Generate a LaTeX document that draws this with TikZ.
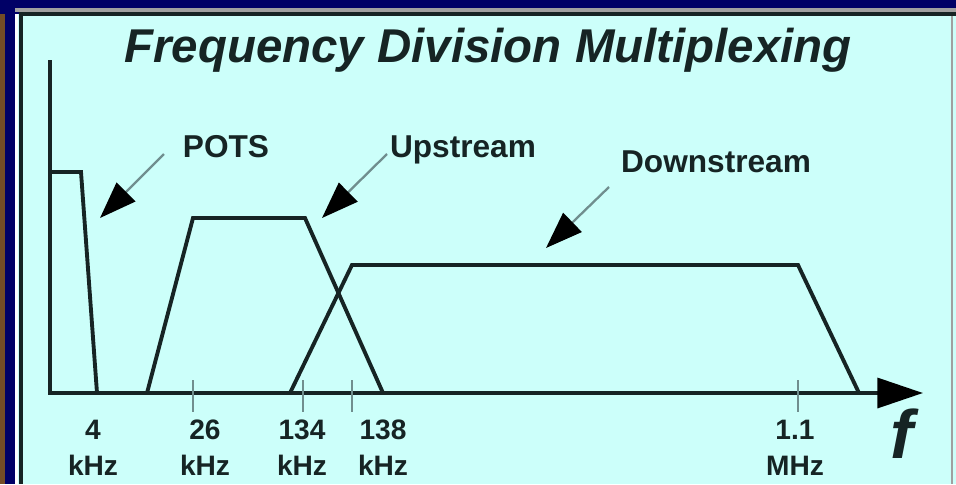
\documentclass[tikz,border=0pt]{standalone}
\usepackage{fontspec}
\setmainfont{Liberation Sans}
\usetikzlibrary{arrows.meta,positioning}

\definecolor{navyback}{RGB}{0,0,102}
\definecolor{panel}{RGB}{204,255,250}
\definecolor{edge}{RGB}{22,36,36}
\definecolor{shaft}{RGB}{112,142,142}
\definecolor{rim}{RGB}{160,160,160}

\tikzset{
  band/.style={edge, line width=2.2pt, line join=miter},
  axisline/.style={edge, line width=2.2pt, -{Triangle[length=26pt,width=17pt,color=black]}},
  tick/.style={shaft, line width=1.2pt},
  pointer/.style={shaft, line width=1.3pt, -{Triangle[length=21pt,width=15pt,color=black]}},
  bandlabel/.style={font=\fontsize{18}{20}\selectfont\bfseries, text=edge, inner sep=0pt, anchor=base},
  ticklabel/.style={font=\fontsize{16}{20.4}\selectfont\bfseries, text=edge, inner sep=0pt, anchor=north, align=center}
}

\begin{document}
\begin{tikzpicture}[x=0.02cm,y=-0.02cm]
\useasboundingbox (0,0) rectangle (956,484);

% frame
\fill[navyback] (0,0) rectangle (956,484);
\fill[brown!60!black] (0,14) rectangle (5,484);
\fill[panel] (17,14) rectangle (956,484);
\fill[white] (15,14) rectangle (18,484);
\draw[rim, line width=2.3pt] (15,10) -- (956,10);
\draw[edge, line width=2.3pt] (21,484) -- (21,14) -- (956,14);
\draw[rim, line width=1.2pt] (952,16) -- (952,484);

% title
\node[font=\fontsize{27}{30}\selectfont\bfseries\itshape, text=edge, anchor=base] (title) at (488,62) {Frequency Division Multiplexing};

% axes
\coordinate (origin) at (50,393);
\coordinate (ytop) at (50,60);
\coordinate (xend) at (923,393);
\draw[axisline] (ytop) -- (origin) -- (xend);
\node[font=\fontsize{39}{40}\selectfont\bfseries\itshape, text=edge, inner sep=0pt, anchor=base] (faxis) at (902,458) {f};

% frequency bands
\draw[band] (50,172) -- (81,172) -- (97,393);
\draw[band] (147,393) -- (193,218) -- (305,218) -- (383,393);
\draw[band] (290,393) -- (352,265) -- (798,265) -- (859,393);

% ticks
\foreach \x in {193,303,352,798} {
    \draw[tick] (\x,380) -- (\x,412);
}

% tick labels
\foreach \x/\val/\unit/\name in {93/4/kHz/fa, 205/26/kHz/fb, 302/134/kHz/fc, 383/138/kHz/fd, 795/1.1/MHz/fe} {
    \node[ticklabel] (\name) at (\x,420) {\val\\\unit};
}

% band labels
\node[bandlabel] (pots) at (226,157) {POTS};
\node[bandlabel] (up) at (463,157) {Upstream};
\node[bandlabel] (down) at (716,172) {Downstream};

% pointers
\coordinate (potsTail) at (164,154);
\coordinate (potsTip) at (100,218);
\coordinate (upTail) at (387,154);
\coordinate (upTip) at (322,218);
\coordinate (downTail) at (609,187);
\coordinate (downTip) at (546,248);
\draw[pointer] (potsTail) -- (potsTip);
\draw[pointer] (upTail) -- (upTip);
\draw[pointer] (downTail) -- (downTip);

\end{tikzpicture}
\end{document}
